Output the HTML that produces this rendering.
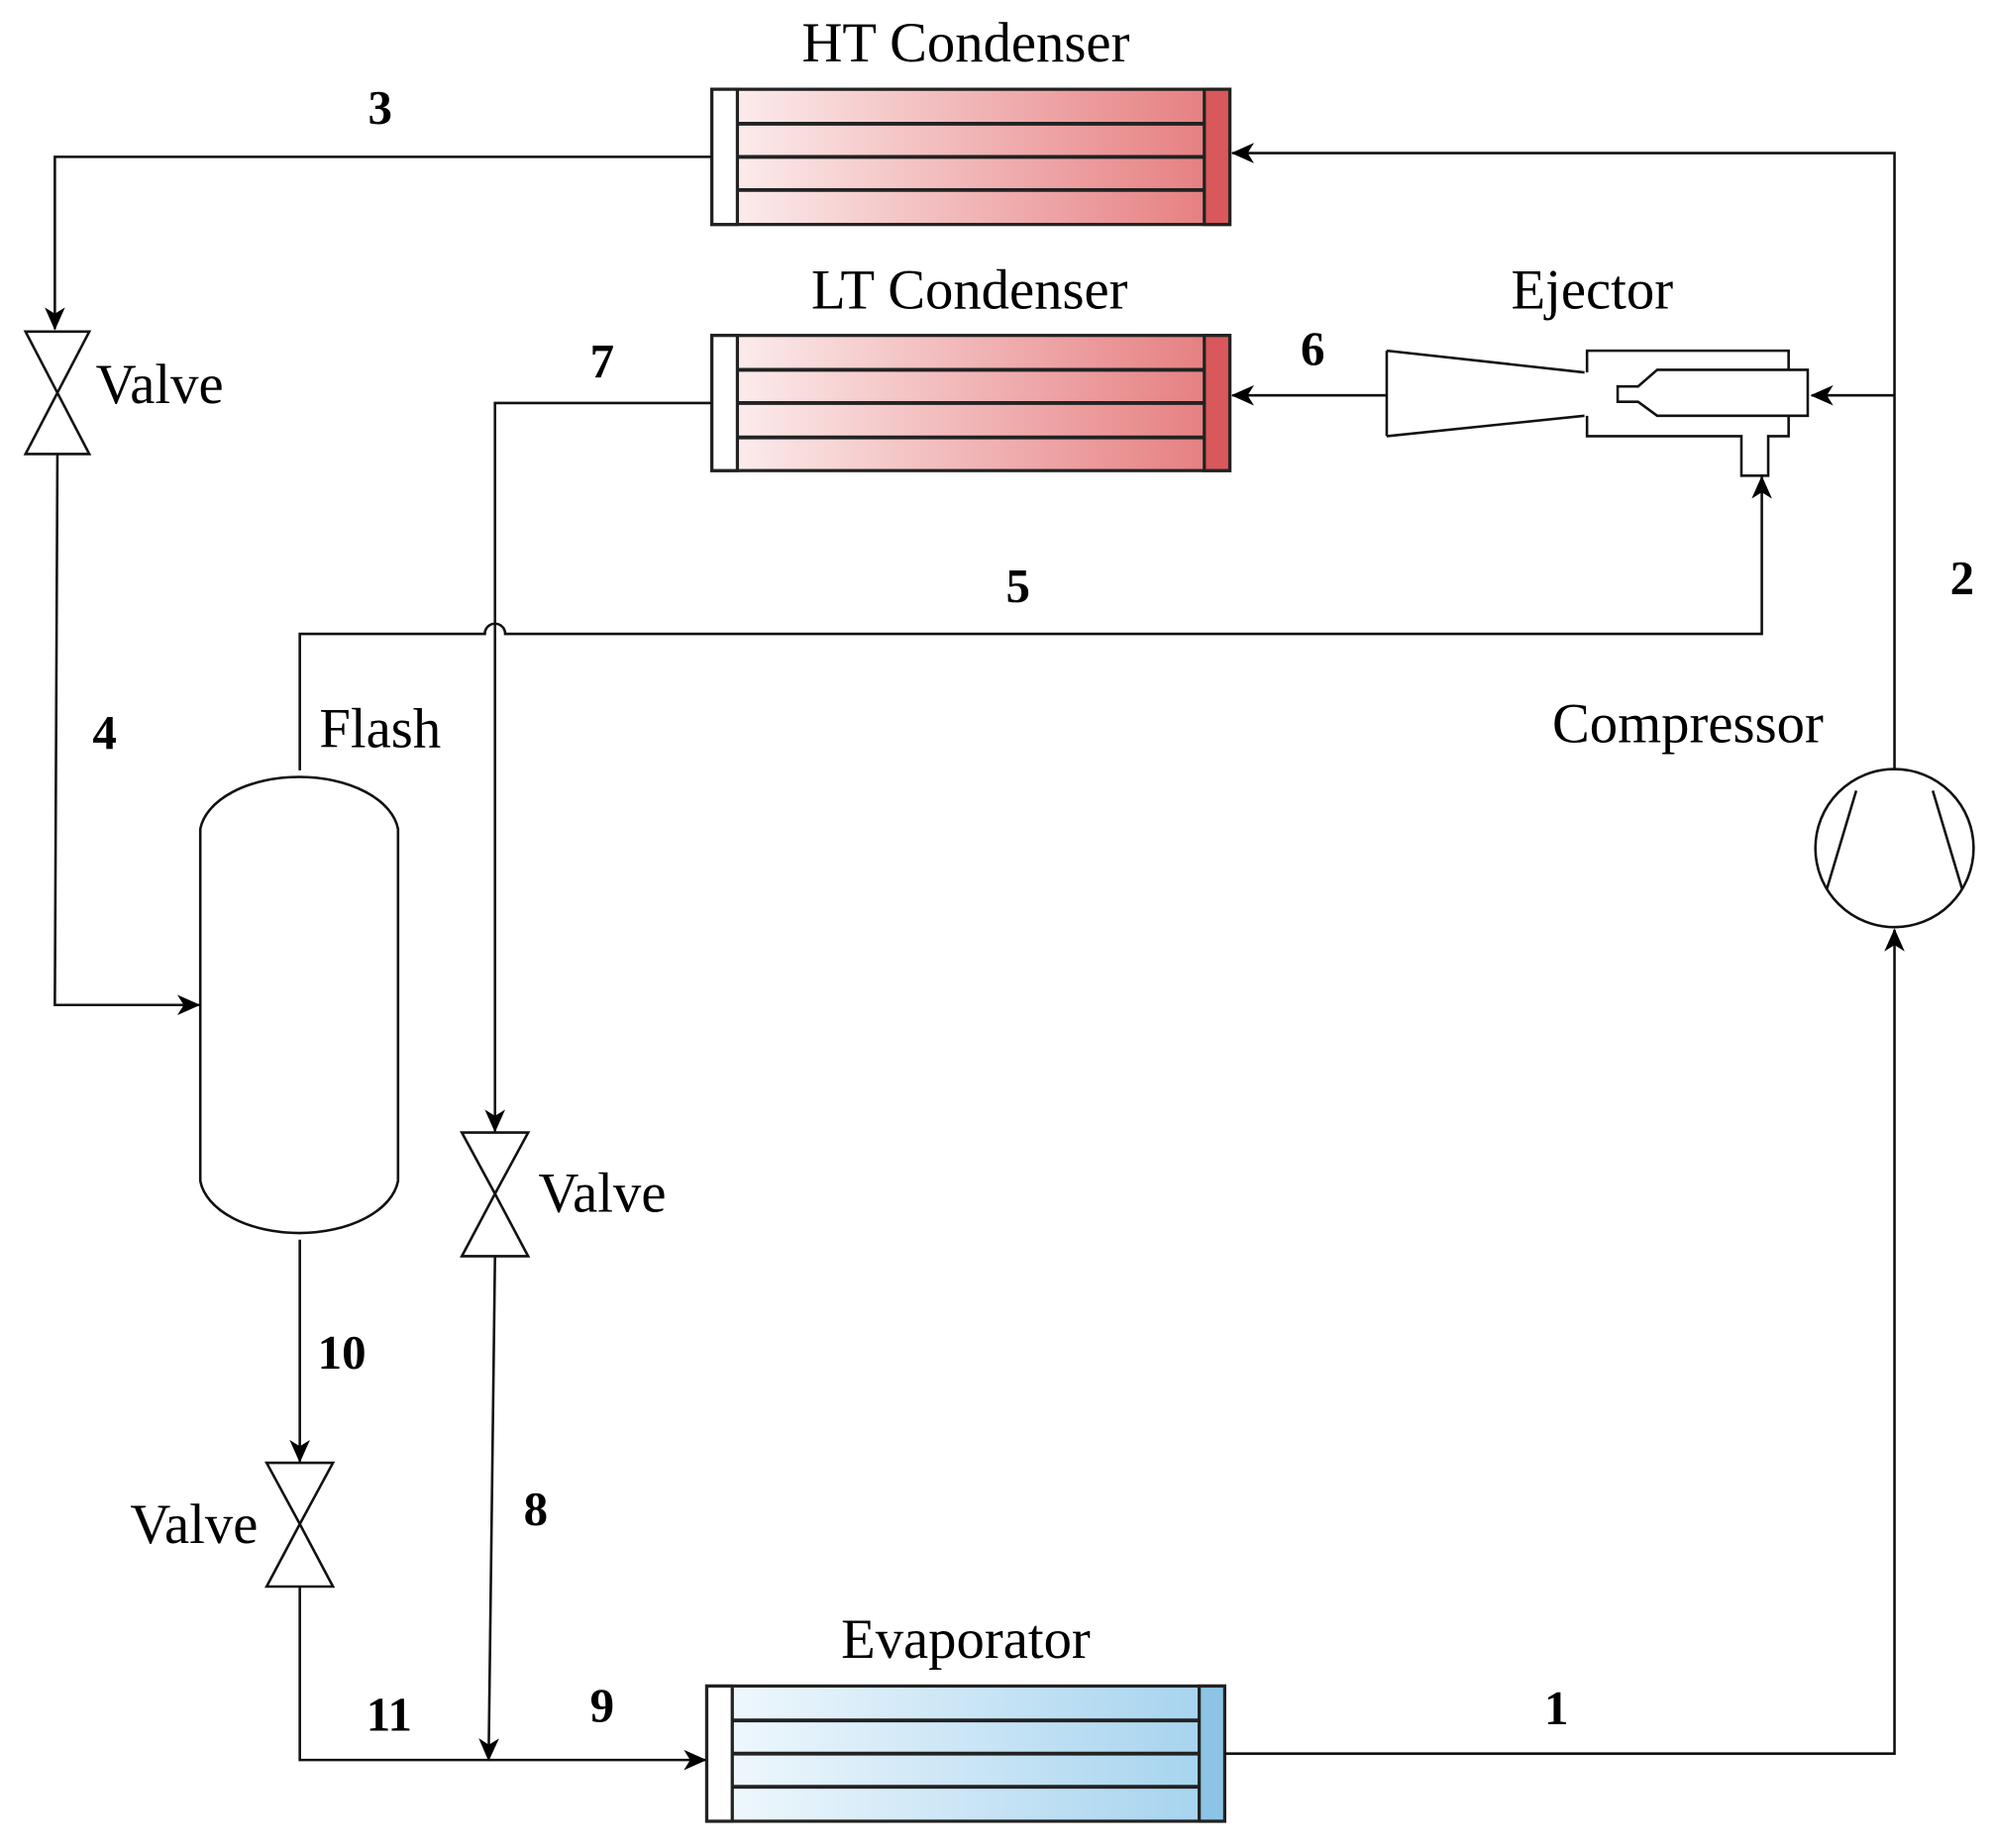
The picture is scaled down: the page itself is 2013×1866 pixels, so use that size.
<!DOCTYPE html>
<html><head><meta charset="utf-8"><style>html,body{margin:0;padding:0;background:#fff}svg{display:block}</style></head>
<body>
<svg width="2013" height="1866" viewBox="0 0 1563 1449" preserveAspectRatio="none" xmlns="http://www.w3.org/2000/svg">
<defs>
<linearGradient id="red" x1="0" x2="1" y1="0" y2="0"><stop offset="0" stop-color="#fdf1f1"/><stop offset="1" stop-color="#e57a7c"/></linearGradient>
<linearGradient id="blue" x1="0" x2="1" y1="0" y2="0"><stop offset="0" stop-color="#f2f9fd"/><stop offset="1" stop-color="#a3d2ee"/></linearGradient>
<marker id="a" markerWidth="18" markerHeight="16" refX="17" refY="8" orient="auto" markerUnits="userSpaceOnUse" viewBox="0 0 18 16"><path d="M0,0 L18,8 L0,16 L5,8 z" fill="#000"/></marker>
</defs>
<g font-family="Liberation Serif, serif" fill="#000">
<text x="757" y="48" font-size="44" text-anchor="middle">HT Condenser</text>
<text x="760" y="242" font-size="44" text-anchor="middle">LT Condenser</text>
<text x="1248" y="242" font-size="44" text-anchor="middle">Ejector</text>
<text x="757" y="1300" font-size="44" text-anchor="middle">Evaporator</text>
<text x="1323" y="582" font-size="44" text-anchor="middle">Compressor</text>
<text x="298" y="586" font-size="44" text-anchor="middle">Flash</text>
<text x="75" y="316" font-size="44">Valve</text>
<text x="422" y="950" font-size="44">Valve</text>
<text x="102" y="1210" font-size="44">Valve</text>
<g font-size="38" font-weight="bold" text-anchor="middle">
<text x="298" y="97">3</text><text x="472" y="296">7</text><text x="1029" y="286">6</text>
<text x="798" y="472">5</text><text x="1538" y="466">2</text><text x="82" y="587">4</text>
<text x="268" y="1073">10</text><text x="420" y="1196">8</text><text x="305" y="1357">11</text>
<text x="472" y="1350">9</text><text x="1220" y="1352">1</text>
</g>
</g>
<g stroke="#222" stroke-width="2.5">
<rect x="558" y="70" width="406" height="106" fill="url(#red)"/>
<rect x="558" y="70" width="20" height="106" fill="#fff"/>
<rect x="944" y="70" width="20" height="106" fill="#d9585c"/>
<line x1="578" y1="97" x2="944" y2="97" stroke-width="3"/><line x1="578" y1="123" x2="944" y2="123" stroke-width="3"/><line x1="578" y1="149" x2="944" y2="149" stroke-width="3"/>
<rect x="558" y="263" width="406" height="106" fill="url(#red)"/>
<rect x="558" y="263" width="20" height="106" fill="#fff"/>
<rect x="944" y="263" width="20" height="106" fill="#d9585c"/>
<line x1="578" y1="290" x2="944" y2="290" stroke-width="3"/><line x1="578" y1="316" x2="944" y2="316" stroke-width="3"/><line x1="578" y1="343" x2="944" y2="343" stroke-width="3"/>
<rect x="554" y="1322" width="406" height="106" fill="url(#blue)"/>
<rect x="554" y="1322" width="20" height="106" fill="#fff"/>
<rect x="940" y="1322" width="20" height="106" fill="#8cc4e6"/>
<line x1="574" y1="1349" x2="940" y2="1349" stroke-width="3"/><line x1="574" y1="1375" x2="940" y2="1375" stroke-width="3"/><line x1="574" y1="1401" x2="940" y2="1401" stroke-width="3"/>
</g>
<g fill="none" stroke="#111" stroke-width="2">
<path d="M20,260 L70,260 L45,308 Z M20,356 L70,356 L45,308 Z" fill="#fff"/>
<path d="M362,888 L414,888 L388,936 Z M362,985 L414,985 L388,936 Z" fill="#fff"/>
<path d="M209,1147 L261,1147 L235,1195 Z M209,1244 L261,1244 L235,1195 Z" fill="#fff"/>
<path d="M157,650 A78,46 0 0 1 312,650 L312,926 A78,46 0 0 1 157,926 Z" fill="#fff"/>
<circle cx="1485" cy="665" r="62" fill="#fff"/>
<line x1="1455" y1="620" x2="1432" y2="697"/><line x1="1515" y1="620" x2="1538" y2="697"/>
<path d="M1087,275 L1242,292 M1087,342 L1242,326 M1087,275 L1087,342" />
<path d="M1244,292 L1244,275 L1402,275 L1402,290 M1244,326 L1244,342 L1365,342 L1365,373 L1386,373 L1386,342 L1402,342 L1402,326"/>
<path d="M1417,290 L1299,290 L1284,303 L1268,303 L1268,315 L1284,315 L1299,326 L1417,326 Z"/>
<path d="M558,123 L43,123 L43,258" marker-end="url(#a)"/>
<path d="M45,356 L43,788 L156,788" marker-end="url(#a)"/>
<path d="M1485,604 L1485,120 L966,120" marker-end="url(#a)"/>
<path d="M1485,310 L1420,310" marker-end="url(#a)"/>
<path d="M1087,310 L966,310" marker-end="url(#a)"/>
<path d="M235,604 L235,497 L380,497 A8,8 0 0 1 396,497 L1381,497 L1381,374" marker-end="url(#a)"/>
<path d="M558,316 L388,316 L388,887" marker-end="url(#a)"/>
<path d="M388,985 L383,1380" marker-end="url(#a)"/>
<path d="M235,972 L235,1146" marker-end="url(#a)"/>
<path d="M235,1244 L235,1380 L553,1380" marker-end="url(#a)"/>
<path d="M960,1375 L1485,1375 L1485,729" marker-end="url(#a)"/>
</g>
</svg>
</body></html>
